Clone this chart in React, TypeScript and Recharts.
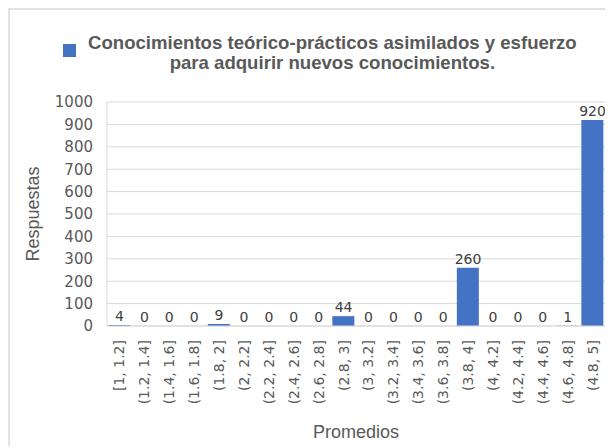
import React from "react";
import {
  ComposedChart,
  Bar,
  Line,
  XAxis,
  YAxis,
  CartesianGrid,
  Legend,
  LabelList,
} from "recharts";

const categories = [
  "[1, 1.2]",
  "(1.2, 1.4]",
  "(1.4, 1.6]",
  "(1.6, 1.8]",
  "(1.8, 2]",
  "(2, 2.2]",
  "(2.2, 2.4]",
  "(2.4, 2.6]",
  "(2.6, 2.8]",
  "(2.8, 3]",
  "(3, 3.2]",
  "(3.2, 3.4]",
  "(3.4, 3.6]",
  "(3.6, 3.8]",
  "(3.8, 4]",
  "(4, 4.2]",
  "(4.2, 4.4]",
  "(4.4, 4.6]",
  "(4.6, 4.8]",
  "(4.8, 5]",
];

const respuestas = [4, 0, 0, 0, 9, 0, 0, 0, 0, 44, 0, 0, 0, 0, 260, 0, 0, 0, 1, 920];

const yTicks = [0, 100, 200, 300, 400, 500, 600, 700, 800, 900, 1000];

const legendLines = [
  "Conocimientos teórico-prácticos asimilados y esfuerzo",
  "para adquirir nuevos conocimientos.",
];

const BLUE = "#4472C4";
const TEXT = "#595959";
const GRID = "#d9d9d9";
const FRAME = "#e2e2e2";
const TICK_FONT = "'DejaVu Sans', sans-serif";
const TITLE_FONT = "'Liberation Sans', Arial, sans-serif";

const data = categories.map((name, i) => ({ name, value: respuestas[i] }));

// rotated category label, reads bottom to top, end touching the axis
function XTick({ x, y, payload }: any) {
  return (
    <text
      x={x}
      y={y}
      transform={`rotate(-90, ${x}, ${y})`}
      textAnchor="end"
      dominantBaseline="central"
      fontSize={14}
      fontFamily={TICK_FONT}
      fill={TEXT}
    >
      {payload.value}
    </text>
  );
}

function SeriesLegend() {
  return (
    <div style={{ display: "flex", alignItems: "flex-start" }}>
      <span
        style={{
          display: "block",
          width: 13,
          height: 13,
          marginTop: 11,
          marginRight: 12,
          background: BLUE,
        }}
      />
      <div
        style={{
          textAlign: "center",
          fontFamily: TITLE_FONT,
          fontWeight: "bold",
          fontSize: 18.6,
          lineHeight: "20px",
          color: TEXT,
          whiteSpace: "nowrap",
        }}
      >
        {legendLines.map((line) => (
          <div key={line}>{line}</div>
        ))}
      </div>
    </div>
  );
}

export default function App() {
  return (
    <>
      <style>{"html { overflow: hidden; }"}</style>
      <div style={{ marginLeft: -8, width: 613, borderTop: `2px solid ${FRAME}` }}>
        <div
          style={{
            marginLeft: 8,
            width: 603,
            height: 436,
            borderLeft: `2px solid ${FRAME}`,
            background: "#fff",
          }}
        >
          <ComposedChart
            width={603}
            height={438}
            data={data}
            margin={{ top: 92, right: 8, left: 0, bottom: 0 }}
            barCategoryGap="5%"
          >
            <CartesianGrid vertical={false} stroke={GRID} />
            <XAxis
              dataKey="name"
              interval={0}
              height={122}
              tickSize={0}
              tickMargin={14}
              tickLine={false}
              axisLine={{ stroke: GRID }}
              tick={<XTick />}
              label={{
                value: "Promedios",
                position: "insideBottom",
                offset: 10,
                fill: TEXT,
                fontSize: 18,
                fontFamily: TITLE_FONT,
              }}
            />
            <YAxis
              width={97}
              domain={[0, 1000]}
              ticks={yTicks}
              interval={0}
              tickSize={0}
              tickMargin={14}
              tickLine={false}
              axisLine={{ stroke: GRID }}
              tick={{ fontSize: 15, fill: TEXT, fontFamily: TICK_FONT }}
              label={{
                value: "Respuestas",
                angle: -90,
                position: "insideLeft",
                offset: 23,
                fill: TEXT,
                fontSize: 18,
                fontFamily: TITLE_FONT,
                style: { textAnchor: "middle" },
              }}
            />
            <Legend
              layout="vertical"
              align="center"
              verticalAlign="middle"
              wrapperStyle={{ top: 23, left: 53, width: 545, height: "auto" }}
              content={() => <SeriesLegend />}
            />
            <Bar dataKey="value" fill={BLUE} isAnimationActive={false} />
            {/* invisible line only carries the value labels, zero bars included */}
            <Line
              dataKey="value"
              stroke="none"
              dot={false}
              activeDot={false}
              legendType="none"
              isAnimationActive={false}
            >
              <LabelList
                dataKey="value"
                position="top"
                offset={4}
                fill="#404040"
                fontSize={14}
                fontFamily={TICK_FONT}
              />
            </Line>
          </ComposedChart>
        </div>
      </div>
    </>
  );
}
